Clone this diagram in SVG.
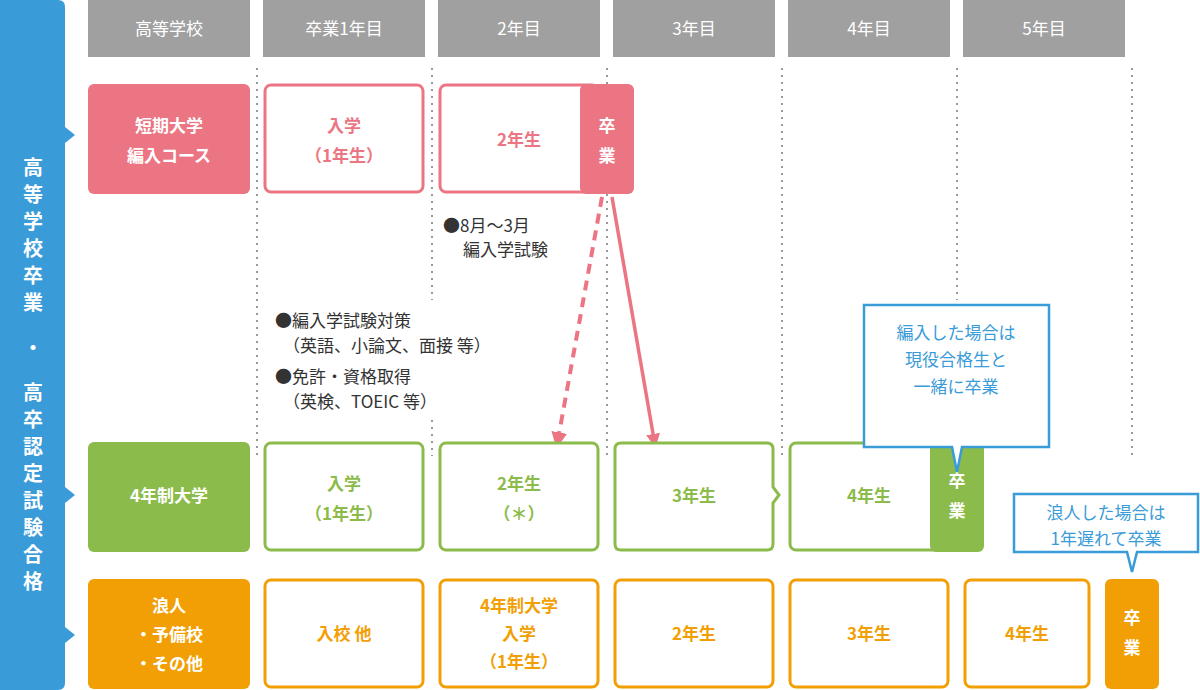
<svg xmlns="http://www.w3.org/2000/svg" width="1200" height="690" viewBox="0 0 1200 690">
<style>
text{font-family:"Noto Sans CJK JP","Noto Sans",sans-serif;text-anchor:middle}
.h{fill:#a0a0a0}.ht{fill:#fff;font-size:17px}
.pf{fill:#ec7583}.po{fill:#fff;stroke:#ec7583;stroke-width:3}
.gf{fill:#8bbb4a}.go{fill:#fff;stroke:#8bbb4a;stroke-width:3}
.of{fill:#f29f05}.oo{fill:#fff;stroke:#f29f05;stroke-width:3}
.w{fill:#fff;font-size:17px;font-weight:bold}
.pt{fill:#ec7583;font-size:17px;font-weight:bold}
.gt{fill:#8bbb4a;font-size:17px;font-weight:bold}
.ot{fill:#f29f05;font-size:17px;font-weight:bold}
.dot{stroke:#999;stroke-width:2;stroke-dasharray:2 5}
.note{fill:#333;font-size:17px;text-anchor:start}
.call{fill:#fff;stroke:#3a9bd9;stroke-width:2.5}
.ct{fill:#3a9bd9;font-size:17px}
</style>
<defs>
<marker id="ah" viewBox="0 0 10 10" refX="8" refY="5" markerWidth="4" markerHeight="4" orient="auto"><path d="M0,0L10,5L0,10z" fill="#ec7583"/></marker>
</defs>
<g id="side">
<path d="M0,0H58Q65,0 65,7V127L75,135L65,143V487L75,495L65,503V627L75,635L65,643V683Q65,690 58,690H0z" fill="#3a9bd9"/>
<text x="33" fill="#fff" font-size="20" font-weight="bold">
<tspan x="33" y="175">高</tspan><tspan x="33" y="202">等</tspan><tspan x="33" y="229">学</tspan><tspan x="33" y="256">校</tspan><tspan x="33" y="283">卒</tspan><tspan x="33" y="310">業</tspan><tspan x="33" y="355">・</tspan><tspan x="33" y="400">高</tspan><tspan x="33" y="427">卒</tspan><tspan x="33" y="454">認</tspan><tspan x="33" y="481">定</tspan><tspan x="33" y="508">試</tspan><tspan x="33" y="535">験</tspan><tspan x="33" y="562">合</tspan><tspan x="33" y="589">格</tspan>
</text>
</g>
<g id="header">
<rect class="h" x="88" y="0" width="162" height="57"/><text class="ht" x="169" y="35">高等学校</text>
<rect class="h" x="263" y="0" width="162" height="57"/><text class="ht" x="344" y="35">卒業1年目</text>
<rect class="h" x="438" y="0" width="162" height="57"/><text class="ht" x="519" y="35">2年目</text>
<rect class="h" x="613" y="0" width="162" height="57"/><text class="ht" x="694" y="35">3年目</text>
<rect class="h" x="788" y="0" width="162" height="57"/><text class="ht" x="869" y="35">4年目</text>
<rect class="h" x="963" y="0" width="162" height="57"/><text class="ht" x="1044" y="35">5年目</text>
</g>
<g id="grid">
<line class="dot" x1="257" y1="68" x2="257" y2="456"/><line class="dot" x1="432" y1="68" x2="432" y2="300"/><line class="dot" x1="432" y1="420" x2="432" y2="456"/>
<line class="dot" x1="607" y1="68" x2="607" y2="456"/><line class="dot" x1="782" y1="68" x2="782" y2="456"/><line class="dot" x1="957" y1="68" x2="957" y2="300"/><line class="dot" x1="1132" y1="68" x2="1132" y2="456"/>
</g>
<g id="row1">
<rect class="pf" x="88" y="84" width="162" height="110" rx="6"/><text class="w" x="169" y="132">短期大学</text><text class="w" x="169" y="162">編入コース</text>
<rect class="po" x="265" y="85" width="158" height="107" rx="6"/><text class="pt" x="344" y="132">入学</text><text class="pt" x="344" y="162">（1年生）</text>
<rect class="po" x="440" y="85" width="158" height="107" rx="6"/><text class="pt" x="519" y="146">2年生</text>
<rect class="pf" x="580" y="84" width="54" height="110" rx="6"/><text class="w" x="607" y="132">卒</text><text class="w" x="607" y="162">業</text>
</g>
<g id="notes">
<text class="note" x="443" y="232">●8月〜3月</text><text class="note" x="463" y="256">編入学試験</text>
<text class="note" x="275" y="327">●編入学試験対策</text><text class="note" x="283" y="352">（英語、小論文、面接 等）</text>
<text class="note" x="275" y="383">●免許・資格取得</text><text class="note" x="283" y="408">（英検、TOEIC 等）</text>
</g>
<g id="connectors">
<line x1="602" y1="197" x2="557" y2="445" stroke="#ec7583" stroke-width="4" stroke-dasharray="10 7" marker-end="url(#ah)"/>
<line x1="612" y1="197" x2="655" y2="445" stroke="#ec7583" stroke-width="3.5" marker-end="url(#ah)"/>
</g>
<g id="row2">
<rect class="gf" x="88" y="442" width="162" height="110" rx="6"/><text class="w" x="169" y="502">4年制大学</text>
<rect class="go" x="265" y="443" width="158" height="107" rx="6"/><text class="gt" x="344" y="490">入学</text><text class="gt" x="344" y="520">（1年生）</text>
<rect class="go" x="440" y="443" width="158" height="107" rx="6"/><text class="gt" x="519" y="490">2年生</text><text class="gt" x="519" y="520">（＊）</text>
<path class="go" d="M621,443H767Q773,443 773,449V487L779,495L773,503V544Q773,550 767,550H621Q615,550 615,544V449Q615,443 621,443z"/><text class="gt" x="694" y="502">3年生</text>
<rect class="go" x="790" y="443" width="158" height="107" rx="6"/><text class="gt" x="869" y="502">4年生</text>
<rect class="gf" x="930" y="442" width="54" height="110" rx="6"/><text class="w" x="957" y="487">卒</text><text class="w" x="957" y="517">業</text>
</g>
<g id="row3">
<rect class="of" x="88" y="579" width="162" height="110" rx="6"/><text class="w" x="169" y="612">浪人</text><text class="w" x="169" y="641">・予備校</text><text class="w" x="169" y="670">・その他</text>
<rect class="oo" x="265" y="580" width="158" height="107" rx="6"/><text class="ot" x="344" y="640">入校 他</text>
<rect class="oo" x="440" y="580" width="158" height="107" rx="6"/><text class="ot" x="519" y="612">4年制大学</text><text class="ot" x="519" y="640">入学</text><text class="ot" x="519" y="668">（1年生）</text>
<rect class="oo" x="615" y="580" width="158" height="107" rx="6"/><text class="ot" x="694" y="640">2年生</text>
<rect class="oo" x="790" y="580" width="158" height="107" rx="6"/><text class="ot" x="869" y="640">3年生</text>
<rect class="oo" x="965" y="580" width="124" height="107" rx="6"/><text class="ot" x="1027" y="640">4年生</text>
<rect class="of" x="1105" y="579" width="54" height="110" rx="6"/><text class="w" x="1132" y="624">卒</text><text class="w" x="1132" y="654">業</text>
</g>
<g id="callout1">
<path class="call" d="M864,305H1049V447H962L957,472L952,447H864z"/>
<text class="ct" x="956" y="339">編入した場合は</text><text class="ct" x="956" y="366">現役合格生と</text><text class="ct" x="956" y="393">一緒に卒業</text>
</g>
<g id="callout2">
<path class="call" d="M1014,494H1198V552H1137L1132,572L1127,552H1014z"/>
<text class="ct" x="1106" y="519">浪人した場合は</text><text class="ct" x="1106" y="545">1年遅れて卒業</text>
</g>
</svg>
